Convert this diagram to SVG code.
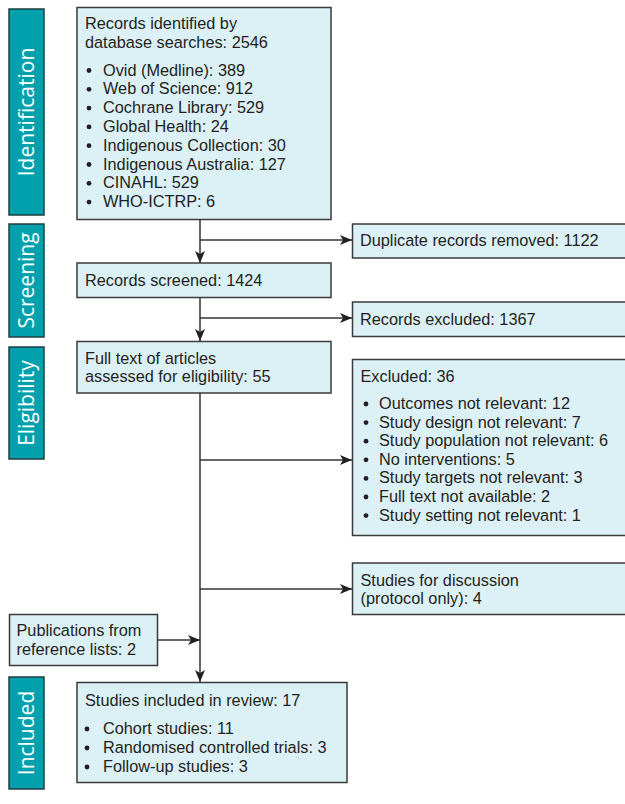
<svg xmlns="http://www.w3.org/2000/svg" width="625" height="804" viewBox="0 0 625 804">
<defs>
<style>
.box{fill:#dcf1f6;stroke:#3b3b3b;stroke-width:1.5}
.lab{fill:#00a1ac;stroke:#1f3f42;stroke-width:1.5}
.t{font-family:"Liberation Sans",Arial,sans-serif;font-size:16.3px;fill:#231f20}
.dot{fill:#231f20}
.lt{font-family:"Open Sans","Liberation Sans",sans-serif;font-size:21px;fill:#ffffff;text-anchor:middle}
.ln{stroke:#333;stroke-width:1.5;fill:none}
</style>
<marker id="ah" viewBox="0 0 12 10" refX="12" refY="5" markerWidth="12" markerHeight="10" markerUnits="userSpaceOnUse" orient="auto">
<path d="M0,0 L12,5 L0,10 L3,5 Z" fill="#222"/>
</marker>
</defs>

<g id="label-identification"><rect class="lab" x="9" y="9" width="35" height="206"/><text class="lt" transform="translate(33.5,112) rotate(-90)">Identification</text></g>
<g id="label-screening"><rect class="lab" x="9" y="224" width="35" height="113"/><text class="lt" transform="translate(33.5,280.5) rotate(-90)">Screening</text></g>
<g id="label-eligibility"><rect class="lab" x="9" y="347" width="35" height="112"/><text class="lt" transform="translate(33.5,403) rotate(-90)">Eligibility</text></g>
<g id="label-included"><rect class="lab" x="9" y="677" width="35" height="112"/><text class="lt" transform="translate(33.5,733) rotate(-90)">Included</text></g>

<g id="connectors">
<line class="ln" x1="200" y1="220" x2="200" y2="263" marker-end="url(#ah)"/>
<line class="ln" x1="200" y1="240" x2="352" y2="240" marker-end="url(#ah)"/>
<line class="ln" x1="200" y1="297" x2="200" y2="341" marker-end="url(#ah)"/>
<line class="ln" x1="200" y1="318" x2="352" y2="318" marker-end="url(#ah)"/>
<line class="ln" x1="200" y1="393" x2="200" y2="682" marker-end="url(#ah)"/>
<line class="ln" x1="200" y1="460" x2="352" y2="460" marker-end="url(#ah)"/>
<line class="ln" x1="200" y1="589" x2="352" y2="589" marker-end="url(#ah)"/>
<line class="ln" x1="157" y1="640" x2="200" y2="640" marker-end="url(#ah)"/>
</g>

<g id="identified">
<rect class="box" x="77" y="7.5" width="254" height="212"/>
<text class="t" x="85" y="29">Records identified by<tspan x="85" dy="19">database searches: 2546</tspan><tspan x="103" dy="27.5">Ovid (Medline): 389</tspan><tspan x="103" dy="18.8">Web of Science: 912</tspan><tspan x="103" dy="18.8">Cochrane Library: 529</tspan><tspan x="103" dy="18.8">Global Health: 24</tspan><tspan x="103" dy="18.8">Indigenous Collection: 30</tspan><tspan x="103" dy="18.8">Indigenous Australia: 127</tspan><tspan x="103" dy="18.8">CINAHL: 529</tspan><tspan x="103" dy="18.8">WHO-ICTRP: 6</tspan></text>
<g class="dot">
<circle cx="89" cy="70.5" r="2.4"/><circle cx="89" cy="89.3" r="2.4"/><circle cx="89" cy="108.1" r="2.4"/><circle cx="89" cy="126.9" r="2.4"/>
<circle cx="89" cy="145.7" r="2.4"/><circle cx="89" cy="164.5" r="2.4"/><circle cx="89" cy="183.3" r="2.4"/><circle cx="89" cy="202.1" r="2.4"/>
</g>
</g>

<g id="duplicates">
<rect class="box" x="352.5" y="224" width="280" height="34"/>
<text class="t" x="360" y="246">Duplicate records removed: 1122</text>
</g>

<g id="screened">
<rect class="box" x="77" y="263" width="254" height="34.5"/>
<text class="t" x="85" y="286">Records screened: 1424</text>
</g>

<g id="excluded-records">
<rect class="box" x="352.5" y="302" width="280" height="34.5"/>
<text class="t" x="360" y="324.5">Records excluded: 1367</text>
</g>

<g id="fulltext">
<rect class="box" x="77" y="341.5" width="254" height="51.5"/>
<text class="t" x="85" y="363.5">Full text of articles<tspan x="85" dy="18.6">assessed for eligibility: 55</tspan></text>
</g>

<g id="excluded-full">
<rect class="box" x="352.5" y="359.5" width="280" height="176"/>
<text class="t" x="360.5" y="382">Excluded: 36<tspan x="379" dy="27">Outcomes not relevant: 12</tspan><tspan x="379" dy="18.6">Study design not relevant: 7</tspan><tspan x="379" dy="18.6">Study population not relevant: 6</tspan><tspan x="379" dy="18.6">No interventions: 5</tspan><tspan x="379" dy="18.6">Study targets not relevant: 3</tspan><tspan x="379" dy="18.6">Full text not available: 2</tspan><tspan x="379" dy="18.6">Study setting not relevant: 1</tspan></text>
<g class="dot">
<circle cx="366" cy="404" r="2.4"/><circle cx="366" cy="422.6" r="2.4"/><circle cx="366" cy="441.2" r="2.4"/><circle cx="366" cy="459.8" r="2.4"/>
<circle cx="366" cy="478.4" r="2.4"/><circle cx="366" cy="497" r="2.4"/><circle cx="366" cy="515.6" r="2.4"/>
</g>
</g>

<g id="discussion">
<rect class="box" x="352.5" y="563" width="280" height="51.5"/>
<text class="t" x="360.5" y="585.5">Studies for discussion<tspan x="360.5" dy="18.6">(protocol only): 4</tspan></text>
</g>

<g id="publications">
<rect class="box" x="9.5" y="614.5" width="148" height="51"/>
<text class="t" x="16.5" y="636">Publications from<tspan x="16.5" dy="19">reference lists: 2</tspan></text>
</g>

<g id="included">
<rect class="box" x="77" y="682.5" width="270" height="100"/>
<text class="t" x="85" y="706">Studies included in review: 17<tspan x="103" dy="28">Cohort studies: 11</tspan><tspan x="103" dy="19">Randomised controlled trials: 3</tspan><tspan x="103" dy="18.6">Follow-up studies: 3</tspan></text>
<g class="dot">
<circle cx="87" cy="729" r="2.4"/><circle cx="87" cy="748" r="2.4"/><circle cx="87" cy="767" r="2.4"/>
</g>
</g>
</svg>
